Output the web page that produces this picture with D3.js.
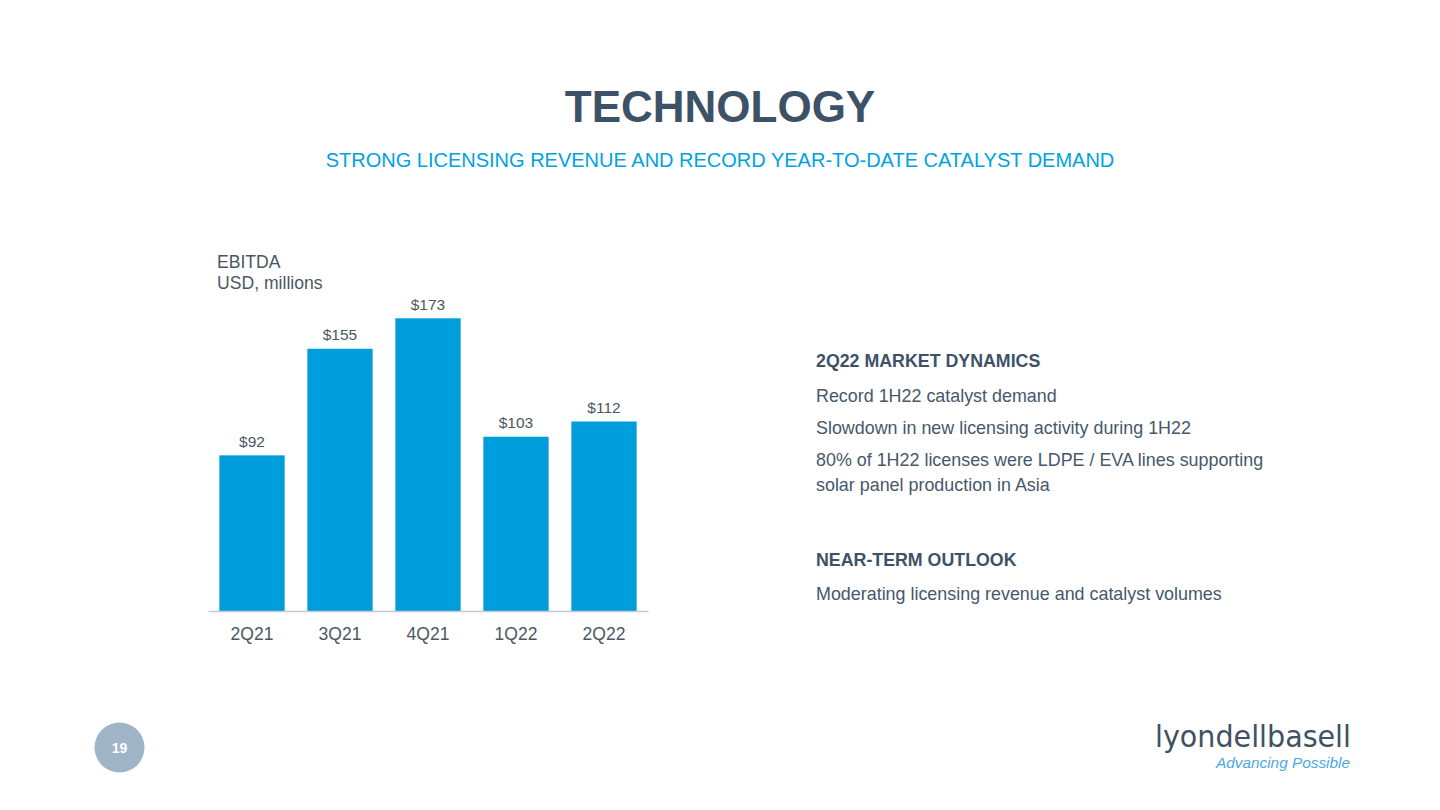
<!DOCTYPE html>
<html>
<head>
<meta charset="utf-8">
<script src="https://cdn.jsdelivr.net/npm/d3@7"></script>
<style>
  html, body { margin: 0; padding: 0; background: #ffffff; }
  svg { display: block; font-family: "Liberation Sans", Arial, sans-serif; }
</style>
</head>
<body>
<svg id="chart" width="1440" height="810"></svg>
<script>
// ---- data ----
const categories = ["2Q21", "3Q21", "4Q21", "1Q22", "2Q22"];
const ebitda = [92, 155, 173, 103, 112];
const valueLabels = ["$92", "$155", "$173", "$103", "$112"];
const chartTitle = "TECHNOLOGY";
const chartSubtitle = "STRONG LICENSING REVENUE AND RECORD YEAR-TO-DATE CATALYST DEMAND";
const unitLines = ["EBITDA", "USD, millions"];
const dynamicsHeading = "2Q22 MARKET DYNAMICS";
const dynamicsItems = [
  ["Record 1H22 catalyst demand"],
  ["Slowdown in new licensing activity during 1H22"],
  ["80% of 1H22 licenses were LDPE / EVA lines supporting", "solar panel production in Asia"]
];
const outlookHeading = "NEAR-TERM OUTLOOK";
const outlookItems = [["Moderating licensing revenue and catalyst volumes"]];
const pageNumber = "19";

// ---- drawing ----
const svg = d3.select("#chart");
const slate = "#3d5267";
const textCol = "#46586b";
const labelCol = "#4b5763";
const barCol = "#009ddd";

svg.append("text").attr("x", 720).attr("y", 121.5).attr("text-anchor", "middle")
  .attr("font-size", 44).attr("font-weight", "bold").attr("fill", slate).text(chartTitle);
svg.append("text").attr("x", 720).attr("y", 166.5).attr("text-anchor", "middle")
  .attr("font-size", 20).attr("fill", "#00a3e0").text(chartSubtitle);

// unit label
svg.selectAll("text.unit").data(unitLines).join("text").attr("class", "unit")
  .attr("x", 217).attr("y", (d, i) => 267.5 + i * 21)
  .attr("font-size", 17.6).attr("fill", labelCol).text(d => d);

// scales
const x = d3.scaleBand().domain(categories).range([208, 648]).paddingInner(0.258).paddingOuter(0.129);
const y = d3.scaleLinear().domain([0, 173]).range([611, 318.3]);

svg.selectAll("rect.bar").data(ebitda).join("rect").attr("class", "bar")
  .attr("x", (d, i) => x(categories[i])).attr("width", x.bandwidth())
  .attr("y", d => y(d)).attr("height", d => y(0) - y(d)).attr("fill", barCol);

svg.selectAll("text.val").data(ebitda).join("text").attr("class", "val")
  .attr("x", (d, i) => x(categories[i]) + x.bandwidth() / 2)
  .attr("y", d => y(d) - 8.5).attr("text-anchor", "middle")
  .attr("font-size", 15.5).attr("fill", labelCol).text((d, i) => valueLabels[i]);

// x axis
const xAxis = svg.append("g").attr("transform", `translate(0,${y(0)})`)
  .call(d3.axisBottom(x).tickSize(0).tickPadding(0));
xAxis.select(".domain").attr("stroke", "#c2cad2").attr("stroke-width", 1.5);
xAxis.selectAll(".tick text").attr("font-size", 17.5).attr("fill", labelCol)
  .attr("font-family", "Liberation Sans, Arial, sans-serif").attr("dy", 0).attr("y", 29);

// right side text
function block(heading, items, yHead, yFirst) {
  svg.append("text").attr("x", 816).attr("y", yHead).attr("font-size", 17.8)
    .attr("font-weight", "bold").attr("fill", slate).text(heading);
  let yy = yFirst;
  items.forEach(lines => {
    lines.forEach((ln, j) => {
      svg.append("text").attr("x", 816).attr("y", yy + j * 25).attr("font-size", 17.9)
        .attr("fill", textCol).text(ln);
    });
    yy += 32 + (lines.length - 1) * 25;
  });
}
block(dynamicsHeading, dynamicsItems, 367, 401.5);
block(outlookHeading, outlookItems, 566, 599.5);

// page number
svg.append("circle").attr("cx", 119.5).attr("cy", 747.5).attr("r", 25).attr("fill", "#9fb4c6");
svg.append("text").attr("x", 119.5).attr("y", 752.5).attr("text-anchor", "middle")
  .attr("font-size", 14).attr("font-weight", "bold").attr("fill", "#ffffff").text(pageNumber);

// logo
svg.append("text").attr("x", 1155).attr("y", 747).attr("font-size", 31)
  .attr("font-family", "DejaVu Sans, sans-serif").attr("fill", "#3f5163")
  .attr("textLength", 196).attr("lengthAdjust", "spacingAndGlyphs").text("lyondellbasell");
svg.append("text").attr("x", 1350).attr("y", 768).attr("text-anchor", "end").attr("font-size", 15)
  .attr("font-style", "italic").attr("fill", "#4aa9e2").attr("textLength", 134)
  .attr("lengthAdjust", "spacingAndGlyphs").text("Advancing Possible");
</script>
</body>
</html>
